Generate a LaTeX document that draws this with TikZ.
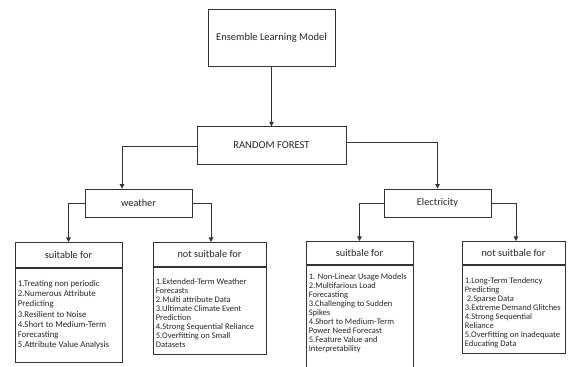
\documentclass[tikz,border=0pt]{standalone}
\usepackage{fontspec}
\setmainfont{Carlito}
\usetikzlibrary{arrows.meta,positioning}
\tikzset{
  boxnode/.style={draw=black!80, line width=0.8pt, rectangle, inner sep=0pt, align=center, text=black!85},
  bodytext/.style={anchor=north west, inner xsep=0pt, inner ysep=0pt, align=left, font=\fontsize{8.5}{8.9}\selectfont, text=black!85},
  arr/.style={draw=black!80, line width=0.8pt, -{Triangle[width=4.5pt,length=4.5pt]}},
  hdr/.style={font=\fontsize{10.3}{12}\selectfont}
}
\begin{document}
\begin{tikzpicture}[x=1pt,y=1pt]
\useasboundingbox (0,0) rectangle (568,367);
% top
\node[boxnode, minimum width=127pt, minimum height=57pt, font=\fontsize{10.5}{12}\selectfont] (ens) at (271.5,329.5) {Ensemble Learning Model};
\node[boxnode, minimum width=149pt, minimum height=37.5pt, font=\fontsize{10.6}{12}\selectfont] (rf) at (271.5,221.5) {RANDOM FOREST};
\node[boxnode, minimum width=107pt, minimum height=28pt, hdr] (wea) at (138.5,164) {weather};
\node[boxnode, minimum width=107pt, minimum height=28pt, hdr] (ele) at (437.5,164) {Electricity};
% headers
\node[boxnode, minimum width=107pt, minimum height=25.5pt, hdr, anchor=north] (sw) at (68.5,125) {suitable for};
\node[boxnode, minimum width=113pt, minimum height=24pt, hdr, anchor=north] (nw) at (209.5,125) {not suitbale for};
\node[boxnode, minimum width=107pt, minimum height=23pt, hdr, anchor=north] (se) at (359.5,126) {suitbale for};
\node[boxnode, minimum width=103pt, minimum height=23pt, hdr, anchor=north] (ne) at (513.5,126) {not suitbale for};
% bodies
\node[boxnode, minimum width=107pt, minimum height=93.5pt, anchor=north] (swb) at (sw.south) {};
\node[boxnode, minimum width=113pt, minimum height=87pt, anchor=north] (nwb) at (nw.south) {};
\node[boxnode, minimum width=107pt, minimum height=102.5pt, anchor=north] (seb) at (se.south) {};
\node[boxnode, minimum width=103pt, minimum height=88pt, anchor=north] (neb) at (ne.south) {};
% body texts
\node[bodytext, font=\fontsize{8.8}{10.3}\selectfont] (swt) at ([xshift=3pt,yshift=-11.5pt]swb.north west) {1.Treating non periodic\\2.Numerous Attribute\\Predicting\\3.Resilient to Noise\\4.Short to Medium-Term\\Forecasting\\5.Attribute Value Analysis};
\node[bodytext] (nwt) at ([xshift=3pt,yshift=-12pt]nwb.north west) {1.Extended-Term Weather\\Forecasts\\2.Multi attribute Data\\3.Ultimate Climate Event\\Prediction\\4.Strong Sequential Reliance\\5.Overfitting on Small\\Datasets};
\node[bodytext] (set) at ([xshift=3pt,yshift=-9pt]seb.north west) {1. Non-Linear Usage Models\\2.Multifarious Load\\Forecasting\\3.Challenging to Sudden\\Spikes\\4.Short to Medium-Term\\Power Need Forecast\\5.Feature Value and\\Interpretability};
\node[bodytext] (net) at ([xshift=3pt,yshift=-13pt]neb.north west) {1.Long-Term Tendency\\Predicting\\\hspace*{2pt}2.Sparse Data\\3.Extreme Demand Glitches\\4.Strong Sequential\\Reliance\\5.Overfitting on Inadequate\\Educating Data};
% connectors
\draw[arr] (ens.south) -- (rf.north);
\draw[arr] ([yshift=-0.5pt]rf.west) -| ([xshift=-16.5pt]wea.north);
\draw[arr] ([yshift=3.5pt]rf.east) -| (ele.north);
\draw[arr] (wea.west) -| (sw.north);
\draw[arr] (wea.east) -| ([xshift=1.5pt]nw.north);
\draw[arr] (ele.west) -| (se.north);
\draw[arr] (ele.east) -| ([xshift=2.5pt]ne.north);
\end{tikzpicture}
\end{document}
